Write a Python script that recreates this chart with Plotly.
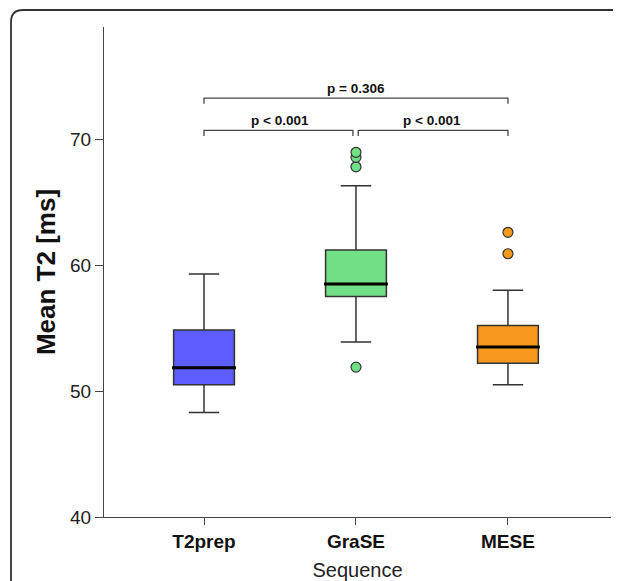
import plotly.graph_objects as go

# ---- data ----
categories = ["T2prep", "GraSE", "MESE"]
lower_whisker = [48.3, 53.9, 50.5]
q1 = [50.5, 57.5, 52.2]
median = [51.85, 58.5, 53.5]
q3 = [54.85, 61.2, 55.2]
upper_whisker = [59.3, 66.3, 58.0]
outliers = [[], [51.9, 67.8, 68.55, 68.95], [60.9, 62.6]]
colors = ["#5C5CFF", "#72DE86", "#F7981E"]

comparisons = [(0, 1, "p < 0.001"), (1, 2, "p < 0.001"), (0, 2, "p = 0.306")]
bracket_y = [70.7, 70.7, 73.25]

# page body adds an 8px offset, so the figure is 8px smaller than the window
W, H = 613, 573
ML, MR, MT, MB = 96, 10, 19, 64
pw, ph = W - ML - MR, H - MT - MB

fig = go.Figure()
for i, c in enumerate(categories):
    fig.add_trace(go.Box(
        x=[i], q1=[q1[i]], median=[median[i]], q3=[q3[i]],
        lowerfence=[lower_whisker[i]], upperfence=[upper_whisker[i]],
        fillcolor=colors[i], line=dict(color="#333333", width=1.5),
        width=0.4, whiskerwidth=0.5, boxpoints=False, showlegend=False,
        hoverinfo="skip"))
    fig.add_trace(go.Scatter(
        x=[i - 0.21, i + 0.21], y=[median[i], median[i]], mode="lines",
        line=dict(color="black", width=3), showlegend=False, hoverinfo="skip"))
    if outliers[i]:
        fig.add_trace(go.Scatter(
            x=[i] * len(outliers[i]), y=outliers[i], mode="markers",
            marker=dict(color=colors[i], size=10, line=dict(color="#333333", width=1.2)),
            showlegend=False, hoverinfo="skip"))

shapes = []
annotations = []
for (a, b, label), by in zip(comparisons, bracket_y):
    if a == 0 and b == 2:
        xa, xb = a, b
    elif a == 0:
        xa, xb = a, b - 0.02
    else:
        xa, xb = a + 0.015, b
    drop = 0.45
    shapes.append(dict(type="path", xref="x", yref="y",
                       path=f"M {xa},{by - drop} L {xa},{by} L {xb},{by} L {xb},{by - drop}",
                       line=dict(color="#444444", width=1.3)))
    annotations.append(dict(x=(a + b) / 2, y=by + 0.05, xref="x", yref="y",
                            text=f"<b>{label}</b>", showarrow=False, yanchor="bottom",
                            font=dict(family="Liberation Sans, Arial", size=13.5, color="#111")))

def px(x):
    return (x - ML) / pw

def py(y):
    return (H - MB - y) / ph

# rounded figure border (extends past right/bottom edges)
r = 12
bx0, by0 = 3, 2
shapes.append(dict(type="path", xref="paper", yref="paper",
                   path=(f"M {px(bx0)},{py(H + 20)} L {px(bx0)},{py(by0 + r)} "
                         f"Q {px(bx0)},{py(by0)} {px(bx0 + r)},{py(by0)} "
                         f"L {px(W + 20)},{py(by0)}"),
                   line=dict(color="#333333", width=1.8)))

fig.update_layout(
    width=W, height=H,
    margin=dict(l=ML, r=MR, t=MT, b=MB),
    plot_bgcolor="white", paper_bgcolor="white",
    font=dict(family="Liberation Sans, Arial", color="#222"),
    shapes=shapes, annotations=annotations,
    xaxis=dict(range=[-0.658, 2.678], tickvals=[0, 1, 2],
               ticktext=[f"<b>{c}</b>" for c in categories],
               tickfont=dict(size=19, color="#111"),
               ticks="outside", ticklen=7, tickcolor="#444",
               showline=True, linecolor="#444", linewidth=1,
               showgrid=False, zeroline=False, automargin=False,
               title=dict(text="Sequence", font=dict(size=20, color="#222"), standoff=12)),
    yaxis=dict(range=[40, 78.9], tickvals=[40, 50, 60, 70],
               tickfont=dict(size=19, color="#222"),
               ticks="outside", ticklen=8, tickcolor="#444",
               showline=True, linecolor="#444", linewidth=1,
               showgrid=False, zeroline=False, automargin=False,
               title=dict(text="<b>Mean T2 [ms]</b>", font=dict(size=26, color="#111"), standoff=6)),
)

fig.write_html("out.html")
